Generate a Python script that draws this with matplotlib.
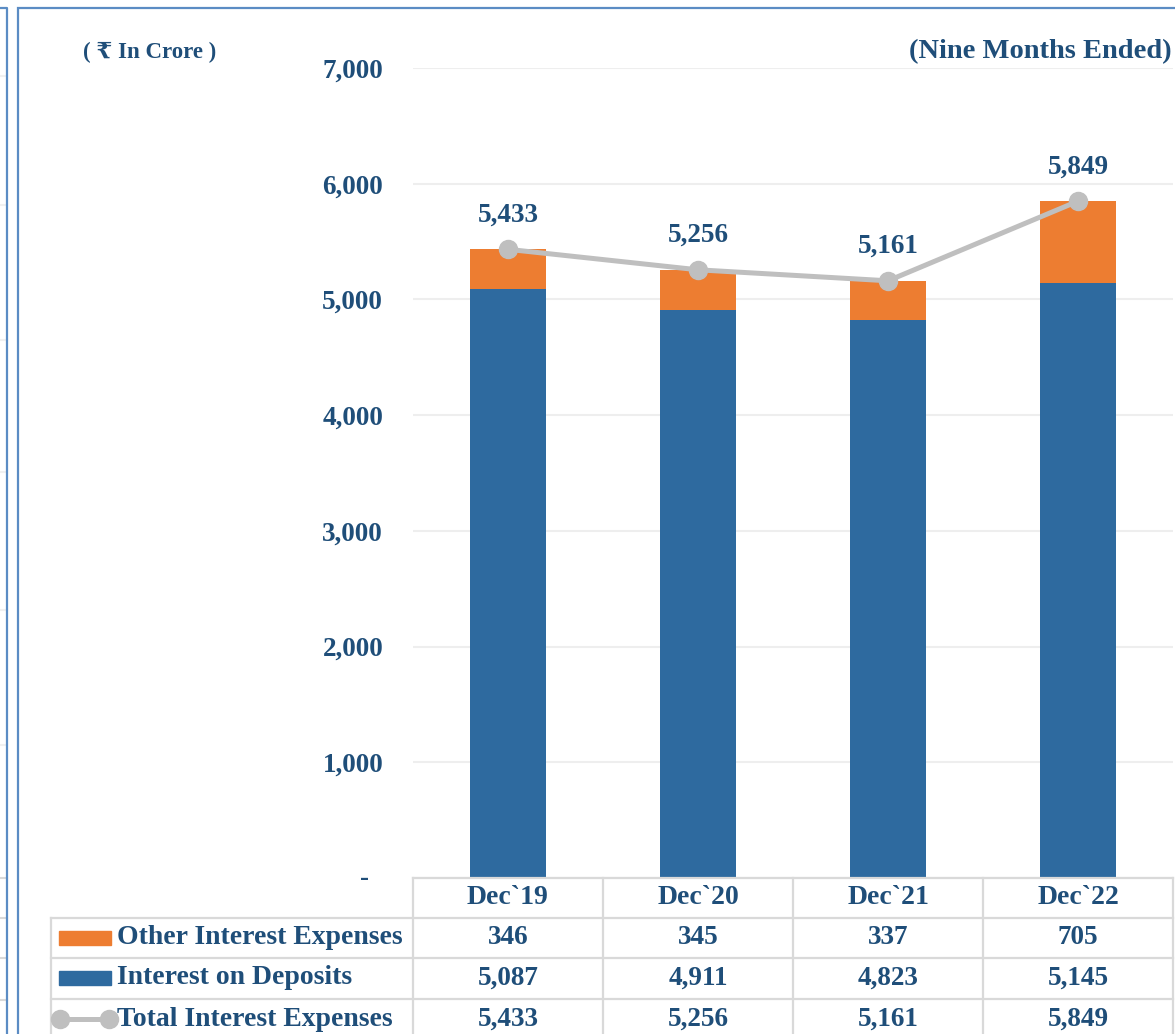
import numpy as np
import matplotlib.pyplot as plt
from matplotlib.patches import Rectangle
from matplotlib.lines import Line2D
from matplotlib.transforms import blended_transform_factory, ScaledTranslation

# data
periods = ["Dec`19", "Dec`20", "Dec`21", "Dec`22"]
other_exp = [346, 345, 337, 705]
deposits = [5087, 4911, 4823, 5145]
total_exp = [5433, 5256, 5161, 5849]
yticks = [0, 1000, 2000, 3000, 4000, 5000, 6000, 7000]

blue = "#2E6A9F"
orange = "#ED7D31"
grey = "#BFBFBF"
txt = "#1F4E79"
cell = "#D9D9D9"
frame = "#5B8CC4"
fam = ["Liberation Serif", "DejaVu Serif", "DejaVu Sans"]

W, H = 1175, 1034
fig = plt.figure(figsize=(W / 100, H / 100), dpi=100)

def fx(px):
    return px / W

def fy(py):
    return 1 - py / H

ftr = fig.transFigure

# bits of the neighbouring chart on the far left
for yy in [76, 205, 340, 472, 610, 745]:
    fig.add_artist(Line2D([0, fx(7)], [fy(yy), fy(yy)], color="#F0F0F0", lw=1.5, transform=ftr))
for yy in [878, 918, 958, 1000]:
    fig.add_artist(Line2D([0, fx(7)], [fy(yy), fy(yy)], color=cell, lw=1.5, transform=ftr))
fig.add_artist(Line2D([0, fx(7), fx(7)], [fy(8), fy(8), 0], color=frame, lw=1.6, transform=ftr))

# outer frame of this chart
fig.add_artist(Rectangle((fx(18), fy(1060)), fx(1200), fy(8) - fy(1060), fill=False,
                         edgecolor=frame, linewidth=1.6, transform=ftr))

ax = fig.add_axes([fx(413), fy(878), fx(1173) - fx(413), fy(68) - fy(878)])
x = np.arange(len(periods))
ax.bar(x, deposits, width=0.4, color=blue, zorder=2)
ax.bar(x, other_exp, width=0.4, bottom=deposits, color=orange, zorder=2)
ax.plot(x, total_exp, color=grey, linewidth=3.6, marker="o", markersize=13,
        zorder=3, solid_capstyle="round")
for i, v in enumerate(total_exp):
    ax.annotate(f"{v:,}", (x[i], v), xytext=(0, 22), textcoords="offset pixels",
                ha="center", va="bottom", fontsize=19.5, fontweight="bold",
                color=txt, family=fam)

ax.set_xlim(-0.5, 3.5)
ax.set_ylim(0, 7000)
ax.set_yticks(yticks)
ax.set_yticklabels(["-" if v == 0 else f"{v:,}" for v in yticks])
ax.tick_params(axis="y", length=0, pad=21.5)
ax.tick_params(axis="x", length=0, labelbottom=False)
for lab in ax.get_yticklabels():
    lab.set_fontsize(19.5)
    lab.set_fontweight("bold")
    lab.set_color(txt)
    lab.set_family(fam)
ylabs = ax.get_yticklabels()
ylabs[0].set_transform(ylabs[0].get_transform() + ScaledTranslation(-0.14, 0.03, fig.dpi_scale_trans))
ax.grid(axis="y", color="#EEEEEE", linewidth=1.5, zorder=0)
for s in ax.spines.values():
    s.set_visible(False)
ax.set_facecolor("none")

fig.text(fx(83), fy(52), "( \u20b9 In Crore )", ha="left", va="center", fontsize=16.5,
         fontweight="bold", color=txt, family=fam)
fig.text(fx(1172), fy(52), "(Nine Months Ended)", ha="right", va="center", fontsize=20.5,
         fontweight="bold", color=txt, family=fam)

# data table below the axis
tr = blended_transform_factory(ax.transData, fig.transFigure)
row_top = [878, 918, 958, 999]
row_h = 40
edges = np.arange(len(periods) + 1) - 0.5

ax.add_artist(Line2D([-0.5, 3.5], [fy(878), fy(878)], color=cell, lw=1.6, transform=tr, clip_on=False))
for r in row_top[1:]:
    fig.add_artist(Line2D([fx(51), fx(1173)], [fy(r), fy(r)], color=cell, lw=1.6, transform=ftr))
for e in edges:
    ax.add_artist(Line2D([e, e], [fy(878), fy(1040)], color=cell, lw=1.6, transform=tr, clip_on=False))
fig.add_artist(Line2D([fx(51), fx(51)], [fy(918), fy(1040)], color=cell, lw=1.6, transform=ftr))

tkw = dict(ha="center", va="center", fontweight="bold", color=txt, family=fam)
for i, p in enumerate(periods):
    ax.text(x[i], fy(row_top[0] + row_h / 2), p, transform=tr, fontsize=20, **tkw)
    ax.text(x[i], fy(row_top[1] + row_h / 2), f"{other_exp[i]:,}", transform=tr, fontsize=19.5, **tkw)
    ax.text(x[i], fy(row_top[2] + row_h / 2), f"{deposits[i]:,}", transform=tr, fontsize=19.5, **tkw)
    ax.text(x[i], fy(row_top[3] + row_h / 2), f"{total_exp[i]:,}", transform=tr, fontsize=19.5, **tkw)

series_names = ["Other Interest Expenses", "Interest on Deposits", "Total Interest Expenses"]
for k, name in enumerate(series_names):
    yc = row_top[k + 1] + row_h / 2
    if k < 2:
        fig.add_artist(Rectangle((fx(59), fy(yc + 7)), fx(52), fy(yc - 7) - fy(yc + 7),
                                 color=[orange, blue][k], transform=ftr))
    else:
        fig.add_artist(Line2D([fx(60), fx(109)], [fy(yc), fy(yc)], color=grey, lw=3.6, transform=ftr))
        fig.add_artist(Line2D([fx(60), fx(109)], [fy(yc), fy(yc)], color=grey, lw=0, marker="o",
                              markersize=13, transform=ftr))
    fig.text(fx(117), fy(yc), name, ha="left", va="center", fontsize=20,
             fontweight="bold", color=txt, family=fam)

fig.savefig("out.png", dpi=100)
